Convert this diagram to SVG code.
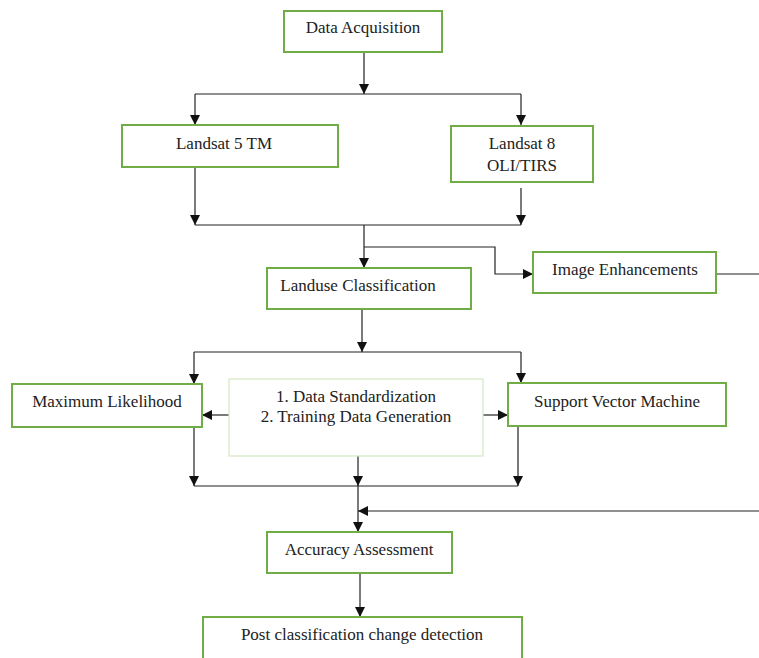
<svg xmlns="http://www.w3.org/2000/svg" width="759" height="658" viewBox="0 0 759 658">
<defs>
<marker id="ah" markerWidth="10" markerHeight="10" refX="10" refY="5" orient="auto" markerUnits="userSpaceOnUse">
<path d="M0,0 L10,5 L0,10 Z" fill="#111"/>
</marker>
<style>
.box{fill:#fff;stroke:#70ad47;stroke-width:2}
.lbox{fill:#fff;stroke:#d4e8c4;stroke-width:1.2}
.t{font-family:"Liberation Serif","DejaVu Serif",serif;font-size:17px;fill:#222;text-anchor:middle}
.c{fill:none;stroke:#222;stroke-width:1.2}
.a{fill:none;stroke:#222;stroke-width:1.2;marker-end:url(#ah)}
</style>
</defs>
<rect width="759" height="658" fill="#fff"/>
<g id="connectors">
<path class="a" d="M364,52 V94"/>
<path class="c" d="M195,94 H521"/>
<path class="a" d="M195,94 V125"/>
<path class="a" d="M521,94 V125"/>
<path class="a" d="M195,167 V225"/>
<path class="a" d="M521,188 V225"/>
<path class="c" d="M195,225 H521"/>
<path class="a" d="M364,225 V268"/>
<path class="a" d="M364,247 H495 V274 H533"/>
<path class="c" d="M716,274 H759"/>
<path class="a" d="M362,309 V352"/>
<path class="c" d="M194,352 H521"/>
<path class="a" d="M194,352 V384"/>
<path class="a" d="M521,352 V383"/>
<path class="a" d="M229,415 H202"/>
<path class="a" d="M483,415 H508"/>
<path class="a" d="M194,427 V486"/>
<path class="a" d="M358,456 V486"/>
<path class="a" d="M518,426 V486"/>
<path class="c" d="M194,486 H518"/>
<path class="a" d="M358,486 V532"/>
<path class="a" d="M759,511 H358"/>
<path class="a" d="M360,573 V617"/>
</g>
<g id="data-acquisition"><rect class="box" x="284" y="11" width="158" height="41"/><text class="t" font-family="Liberation Serif, serif" x="363" y="33">Data Acquisition</text></g>
<g id="landsat5"><rect class="box" x="122" y="125" width="216" height="42"/><text class="t" font-family="Liberation Serif, serif" x="224" y="149">Landsat 5 TM</text></g>
<g id="landsat8"><rect class="box" x="451" y="126" width="142" height="56"/><text class="t" font-family="Liberation Serif, serif" x="522" y="149">Landsat 8</text><text class="t" font-family="Liberation Serif, serif" x="522" y="171">OLI/TIRS</text></g>
<g id="landuse"><rect class="box" x="267" y="268" width="204" height="41"/><text class="t" font-family="Liberation Serif, serif" x="358" y="291">Landuse Classification</text></g>
<g id="image-enhancements"><rect class="box" x="533" y="252" width="183" height="41"/><text class="t" font-family="Liberation Serif, serif" x="625" y="275">Image Enhancements</text></g>
<g id="maximum-likelihood"><rect class="box" x="12" y="384" width="190" height="43"/><text class="t" font-family="Liberation Serif, serif" x="107" y="407">Maximum Likelihood</text></g>
<g id="preprocessing"><rect class="lbox" x="229" y="379" width="254" height="77"/><text class="t" font-family="Liberation Serif, serif" x="356" y="402">1. Data Standardization</text><text class="t" font-family="Liberation Serif, serif" x="356" y="422">2. Training Data Generation</text></g>
<g id="svm"><rect class="box" x="508" y="383" width="218" height="43"/><text class="t" font-family="Liberation Serif, serif" x="617" y="407">Support Vector Machine</text></g>
<g id="accuracy"><rect class="box" x="267" y="532" width="185" height="41"/><text class="t" font-family="Liberation Serif, serif" x="359" y="555">Accuracy Assessment</text></g>
<g id="post-classification"><rect class="box" x="203" y="617" width="319" height="50"/><text class="t" font-family="Liberation Serif, serif" x="362" y="640">Post classification change detection</text></g>
</svg>
